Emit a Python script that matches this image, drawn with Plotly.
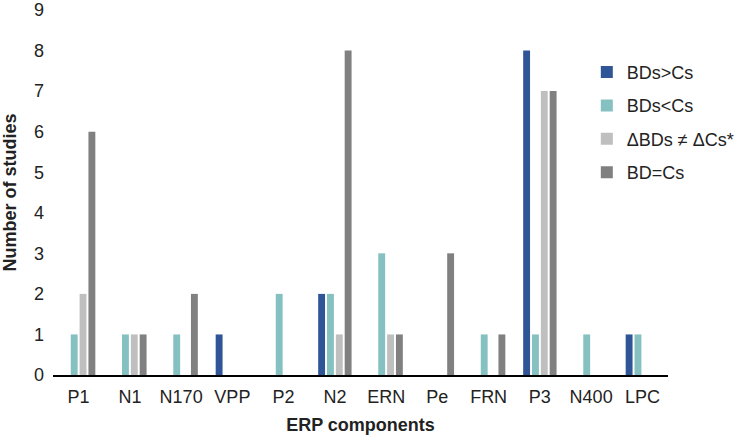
import plotly.graph_objects as go

categories = ["P1", "N1", "N170", "VPP", "P2", "N2", "ERN", "Pe", "FRN", "P3", "N400", "LPC"]
bds_gt_cs = [0, 0, 0, 1, 0, 2, 0, 0, 0, 8, 0, 1]
bds_lt_cs = [1, 1, 1, 0, 2, 2, 3, 0, 1, 1, 1, 1]
delta_neq = [2, 1, 0, 0, 0, 1, 1, 0, 0, 7, 0, 0]
bd_eq_cs = [6, 1, 2, 0, 0, 8, 1, 3, 1, 7, 0, 0]

series_names = ["BDs>Cs", "BDs<Cs", "\u0394BDs \u2260 \u0394Cs*", "BD=Cs"]
series_values = [bds_gt_cs, bds_lt_cs, delta_neq, bd_eq_cs]
colors = ["#2F5597", "#85C1C1", "#BFBFBF", "#808080"]

fig = go.Figure()
for i, (name, vals, c) in enumerate(zip(series_names, series_values, colors)):
    fig.add_trace(go.Bar(x=categories, y=vals, name=name, marker_color=c,
                         marker_line_width=0, legendgroup=f"g{i}"))

font = "Liberation Sans, Arial, sans-serif"
fig.update_layout(
    width=736, height=438,
    margin=dict(l=53, r=68, t=10, b=63, autoexpand=False),
    plot_bgcolor="white", paper_bgcolor="white",
    barmode="group", bargap=0.31, bargroupgap=0.22,
    font=dict(family=font, size=18, color="#222"),
    showlegend=True,
    legend=dict(x=0.868, y=0.88, xanchor="left", yanchor="top",
                font=dict(size=18, family=font, color="#222"),
                itemwidth=30, tracegroupgap=7, bgcolor="rgba(0,0,0,0)",
                traceorder="grouped"),
    xaxis=dict(showgrid=False, showline=True, linecolor="black", linewidth=2,
               ticks="", tickfont=dict(size=18), ticklabelstandoff=4, automargin=False,
               ticklabeloverflow="allow",
               title=dict(text="<b>ERP components</b>", font=dict(size=18), standoff=13)),
    yaxis=dict(range=[0, 9], dtick=1, showgrid=False, showline=False, zeroline=False,
               ticks="", tickfont=dict(size=18), ticklabelstandoff=8, automargin=False,
               ticklabeloverflow="allow",
               title=dict(text="<b>Number of studies</b>", font=dict(size=18), standoff=21)),
)
fig.write_html("out.html", config={"displayModeBar": False},
               post_script="document.body.style.margin='0px';")
